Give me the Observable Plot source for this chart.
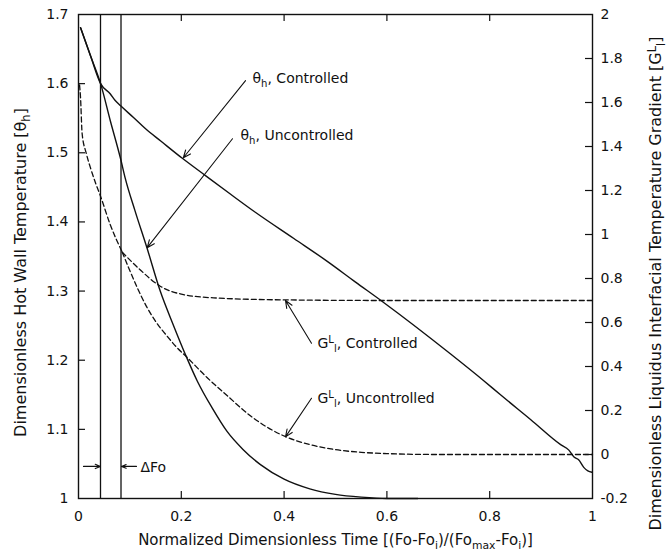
<!DOCTYPE html>
<html><head><meta charset="utf-8">
<script src="https://cdn.jsdelivr.net/npm/d3@7"></script>
<script src="https://cdn.jsdelivr.net/npm/@observablehq/plot@0.6"></script>
<style>html,body{margin:0;padding:0;background:#fff;} #chart svg{display:block}</style>
</head><body><div id="chart"></div>
<script>
// ---- axes / ticks ----
const xTicks = [0, 0.2, 0.4, 0.6, 0.8, 1];
const xTickLabels = ["0", "0.2", "0.4", "0.6", "0.8", "1"];
const thetaTicks = [1, 1.1, 1.2, 1.3, 1.4, 1.5, 1.6, 1.7];
const thetaTickLabels = ["1", "1.1", "1.2", "1.3", "1.4", "1.5", "1.6", "1.7"];
const gTicks = [-0.2, 0, 0.2, 0.4, 0.6, 0.8, 1, 1.2, 1.4, 1.6, 1.8, 2];
const gTickLabels = ["-0.2", "0", "0.2", "0.4", "0.6", "0.8", "1", "1.2", "1.4", "1.6", "1.8", "2"];
const thetaDomain = [1, 1.7];
const gDomain = [-0.2, 2];

// ---- series: [x, theta_h] ----
const thetaControlled = [[0.004,1.681],[0.023,1.641],[0.043,1.600],[0.062,1.585],[0.071,1.576],[0.082,1.568],[0.107,1.551],[0.130,1.535],[0.160,1.517],[0.202,1.492],[0.247,1.467],[0.296,1.440],[0.344,1.414],[0.419,1.376],[0.484,1.343],[0.539,1.313],[0.591,1.285],[0.724,1.209],[0.789,1.170],[0.821,1.150],[0.880,1.114],[0.938,1.078],[0.954,1.070],[0.964,1.060],[0.973,1.056],[0.983,1.045],[0.991,1.040],[0.999,1.038]];
const thetaUncontrolled = [[0.004,1.681],[0.023,1.641],[0.043,1.600],[0.062,1.546],[0.082,1.491],[0.091,1.463],[0.110,1.416],[0.133,1.363],[0.159,1.300],[0.185,1.250],[0.211,1.203],[0.231,1.170],[0.260,1.131],[0.289,1.097],[0.320,1.071],[0.354,1.049],[0.400,1.028],[0.450,1.014],[0.500,1.006],[0.550,1.002],[0.600,1.000],[0.660,1.000]];

// ---- series: [x, G_l^L] ----
const gShared = [[0.002,1.68],[0.004,1.62],[0.007,1.46],[0.015,1.37],[0.023,1.305],[0.033,1.235],[0.043,1.173],[0.062,1.043],[0.085,0.920]];
const gControlled = [[0.085,0.920],[0.122,0.835],[0.159,0.765],[0.198,0.730],[0.263,0.712],[0.393,0.703],[0.600,0.700],[1.000,0.700]];
const gUncontrolled = [[0.085,0.920],[0.100,0.835],[0.115,0.755],[0.133,0.670],[0.150,0.605],[0.170,0.545],[0.190,0.490],[0.211,0.442],[0.250,0.350],[0.289,0.268],[0.335,0.175],[0.370,0.120],[0.402,0.082],[0.450,0.045],[0.500,0.022],[0.550,0.010],[0.600,0.004],[0.700,0.000],[1.000,0.000]];

// ---- Delta Fo markers ----
const deltaFo = [0.0428, 0.0827];

// ---- annotations (x, theta_h) ----
const labelText = ["θ_{h}, Controlled", "θ_{h}, Uncontrolled", "G^{L}_{l}, Controlled", "G^{L}_{l}, Uncontrolled", "ΔFo"];
const labelX = [0.3385, 0.3152, 0.465, 0.465, 0.1206];
const labelY = [1.607, 1.5246, 1.2246, 1.1449, 1.0449];
const arrowX1 = [0.325, 0.2996, 0.4533, 0.4533, 0.0097, 0.1128];
const arrowY1 = [1.6043, 1.5203, 1.2246, 1.1449, 1.0464, 1.0464];
const arrowX2 = [0.204, 0.1337, 0.4027, 0.4027, 0.0428, 0.0837];
const arrowY2 = [1.4928, 1.3628, 1.2864, 1.0891, 1.0464, 1.0464];

const xTitle = "Normalized Dimensionless Time [(Fo-Fo_{i})/(Fo_{max}-Fo_{i})]";
const yLeftTitle = "Dimensionless Hot Wall Temperature [θ_{h}]";
const yRightTitle = "Dimensionless Liquidus Interfacial Temperature Gradient [G^{L}_{l}]";

// map right-axis values into the theta scale
const toTheta = g => thetaDomain[0] + (g - gDomain[0]) / (gDomain[1] - gDomain[0]) * (thetaDomain[1] - thetaDomain[0]);
const gTicksTheta = gTicks.map(toTheta);
const pt = arr => arr.map(([x, y]) => ({x, y}));
const ptg = arr => arr.map(([x, g]) => ({x, y: toTheta(g)}));
const labels = labelText.map((t, i) => ({t, x: labelX[i], y: labelY[i]}));
const arrows = arrowX1.map((d, i) => ({x1: d, y1: arrowY1[i], x2: arrowX2[i], y2: arrowY2[i]}));

const W = 671, H = 553, ML = 78, MR = 79, MT = 14, MB = 55;
const FW = W - ML - MR, FH = H - MT - MB, TL = 7;
const ink = "#111";

const svg = Plot.plot({
  width: W, height: H,
  marginLeft: ML, marginRight: MR, marginTop: MT, marginBottom: MB,
  style: {fontFamily: "DejaVu Sans", fontSize: "14px", background: "#fff", color: ink},
  x: {domain: [0, 1]},
  y: {domain: thetaDomain},
  marks: [
    Plot.ruleX(deltaFo, {stroke: ink, strokeWidth: 1.3}),
    Plot.line(pt(thetaControlled), {x: "x", y: "y", stroke: ink, strokeWidth: 1.4, curve: "monotone-x"}),
    Plot.line(pt(thetaUncontrolled), {x: "x", y: "y", stroke: ink, strokeWidth: 1.4, curve: "monotone-x"}),
    Plot.line(ptg(gShared), {x: "x", y: "y", stroke: ink, strokeWidth: 1.3, strokeDasharray: "5,3", curve: "monotone-x"}),
    Plot.line(ptg(gControlled), {x: "x", y: "y", stroke: ink, strokeWidth: 1.3, strokeDasharray: "5,3", curve: "monotone-x"}),
    Plot.line(ptg(gUncontrolled), {x: "x", y: "y", stroke: ink, strokeWidth: 1.3, strokeDasharray: "5,3", curve: "monotone-x"}),
    Plot.arrow(arrows, {x1: "x1", y1: "y1", x2: "x2", y2: "y2", stroke: ink, strokeWidth: 1.1, headLength: 11, headAngle: 45, bend: 0}),
    Plot.text(labels, {x: "x", y: "y", text: "t", textAnchor: "start", lineAnchor: "middle", fill: ink, fontSize: 14}),
    // inward ticks
    Plot.tickX(xTicks.slice(1, -1), {x: d => d, insetTop: FH - TL, stroke: ink, strokeWidth: 1.2}),
    Plot.tickX(xTicks.slice(1, -1), {x: d => d, insetBottom: FH - TL, stroke: ink, strokeWidth: 1.2}),
    Plot.tickY(thetaTicks.slice(1, -1), {y: d => d, insetRight: FW - TL, stroke: ink, strokeWidth: 1.2}),
    Plot.tickY(gTicksTheta.slice(1, -1), {y: d => d, insetLeft: FW - TL, stroke: ink, strokeWidth: 1.2}),
    Plot.axisX(xTicks, {anchor: "bottom", tickSize: 0, tickPadding: 13, label: null,
      tickFormat: d => xTickLabels[xTicks.findIndex(v => Math.abs(v - d) < 1e-9)]}),
    Plot.axisY(thetaTicks, {anchor: "left", tickSize: 0, tickPadding: 10, label: null,
      tickFormat: d => thetaTickLabels[thetaTicks.findIndex(v => Math.abs(v - d) < 1e-9)]}),
    Plot.axisY(gTicksTheta, {anchor: "right", tickSize: 0, tickPadding: 8, label: null,
      tickFormat: d => gTickLabels[gTicksTheta.findIndex(v => Math.abs(v - d) < 1e-9)]}),
    Plot.text([xTitle], {text: d => d, frameAnchor: "bottom", textAnchor: "middle", lineAnchor: "middle", dy: 42, fontSize: 15, fill: ink}),
    Plot.text([yLeftTitle], {text: d => d, frameAnchor: "left", textAnchor: "middle", lineAnchor: "middle", dx: -58, dy: 16, rotate: -90, fontSize: 16, fill: ink}),
    Plot.text([yRightTitle], {text: d => d, frameAnchor: "right", textAnchor: "middle", lineAnchor: "middle", dx: 63, dy: 27, rotate: -90, fontSize: 16, fill: ink}),
    Plot.frame({stroke: ink, strokeWidth: 1.4})
  ]
});
document.getElementById("chart").append(svg);

// turn _{..} and ^{..} into real sub/superscript tspans
const NS = "http://www.w3.org/2000/svg";
function richify(el) {
  const s = el.textContent;
  if (!/[_^]\{/.test(s)) return;
  el.textContent = "";
  let shift = 0;
  for (const m of s.matchAll(/([_^])\{([^}]*)\}|([^_^]+)/g)) {
    const t = document.createElementNS(NS, "tspan");
    if (m[3] !== undefined) {
      t.textContent = m[3];
      if (shift) { t.setAttribute("dy", -shift); shift = 0; }
    } else {
      const target = m[1] === "_" ? 4 : -5;
      t.setAttribute("dy", target - shift);
      shift = target;
      t.style.fontSize = "0.72em";
      t.textContent = m[2];
    }
    el.appendChild(t);
  }
}
svg.querySelectorAll("text").forEach(richify);
</script>
</body></html>
